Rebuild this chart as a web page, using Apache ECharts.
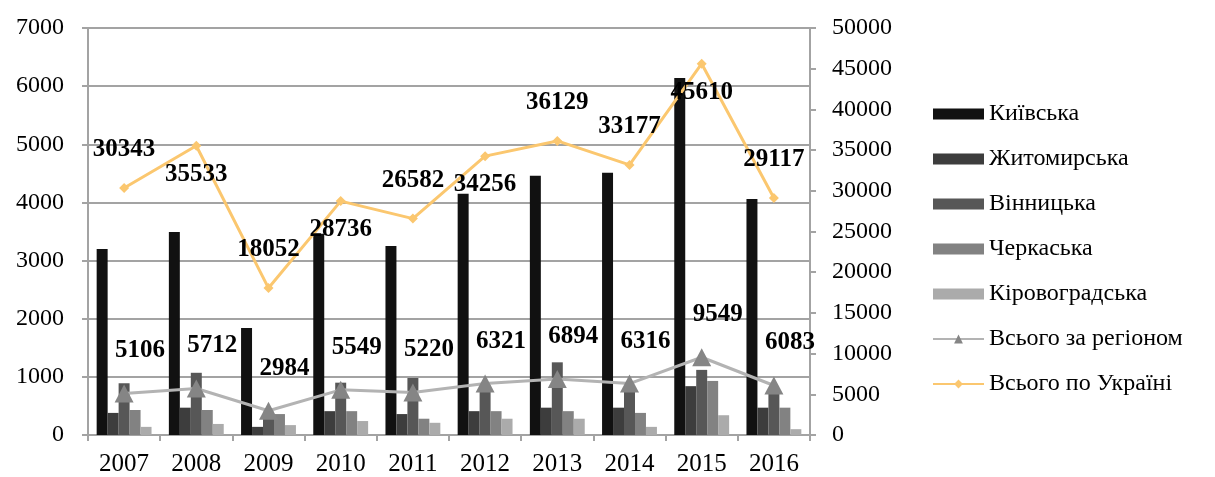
<!DOCTYPE html>
<html>
<head>
<meta charset="utf-8">
<script src="https://cdn.jsdelivr.net/npm/echarts@6/dist/echarts.min.js"></script>
<style>
  html, body { margin: 0; padding: 0; background: #fff; }
  #chart { width: 1215px; height: 477px; }
</style>
</head>
<body>
<div id="chart"></div>
<script>
// роки
var years = ['2007', '2008', '2009', '2010', '2011', '2012', '2013', '2014', '2015', '2016'];

// області (ліва вісь)
var kyivska = [3200, 3490, 1840, 3460, 3250, 4150, 4460, 4510, 6140, 4060];
var zhytomyrska = [380, 470, 140, 410, 360, 410, 470, 470, 840, 470];
var vinnytska = [890, 1070, 400, 900, 980, 850, 1250, 750, 1120, 750];
var cherkaska = [430, 430, 360, 410, 280, 410, 410, 380, 930, 470];
var kirovohradska = [140, 190, 170, 240, 210, 280, 280, 140, 340, 100];

// підсумки (права вісь)
var totalRegion = [5106, 5712, 2984, 5549, 5220, 6321, 6894, 6316, 9549, 6083];
var totalUkraine = [30343, 35533, 18052, 28736, 26582, 34256, 36129, 33177, 45610, 29117];

var serif = "'Liberation Serif', 'DejaVu Serif', serif";
var gridColor = '#a3a3a3';

// де стоїть підпис для лінії "по Україні"
var ukrLabelPos = ['top', 'bottom', 'top', 'bottom', 'top', 'bottom', 'top', 'top', 'bottom', 'top'];

var ukrData = [];
for (var i = 0; i < totalUkraine.length; i++) {
    ukrData.push({
        value: totalUkraine[i],
        label: {
            position: ukrLabelPos[i],
            distance: ukrLabelPos[i] == 'top' ? 21 : 11
        }
    });
}

var labelStyle = {
    show: true,
    fontFamily: serif,
    fontWeight: 'bold',
    fontSize: 25,
    color: '#000'
};

function plain(v) {
    return String(v);
}

function barSeries(name, data, color) {
    return {
        name: name,
        type: 'bar',
        data: data,
        yAxisIndex: 0,
        barGap: '0%',
        barCategoryGap: '24%',
        itemStyle: { color: color },
        animation: false
    };
}

var myChart = echarts.init(document.getElementById('chart'));

var option = {
    animation: false,
    grid: {
        left: 88,
        right: 405,
        top: 28,
        bottom: 42
    },
    legend: {
        orient: 'vertical',
        left: 927,
        top: 97,
        itemWidth: 51,
        itemHeight: 11,
        itemGap: 21,
        textStyle: {
            fontFamily: serif,
            fontSize: 24,
            color: '#000'
        },
        data: [
            { name: 'Київська', icon: 'rect' },
            { name: 'Житомирська', icon: 'rect' },
            { name: 'Вінницька', icon: 'rect' },
            { name: 'Черкаська', icon: 'rect' },
            { name: 'Кіровоградська', icon: 'rect' },
            { name: 'Всього за регіоном' },
            { name: 'Всього по Україні' }
        ]
    },
    xAxis: {
        type: 'category',
        data: years,
        boundaryGap: true,
        axisLine: { show: true, lineStyle: { color: gridColor, width: 2 } },
        axisTick: { show: true, length: 6, lineStyle: { color: gridColor, width: 2 } },
        axisLabel: {
            fontFamily: serif,
            fontSize: 25,
            color: '#000',
            margin: 17
        }
    },
    yAxis: [
        {
            type: 'value',
            min: 0,
            max: 7000,
            interval: 1000,
            position: 'left',
            axisLine: { show: true, lineStyle: { color: gridColor, width: 2 } },
            axisTick: { show: true, length: 6, lineStyle: { color: gridColor, width: 2 } },
            splitLine: { show: true, lineStyle: { color: gridColor, width: 2 } },
            axisLabel: {
                fontFamily: serif,
                fontSize: 24,
                color: '#000',
                margin: 24,
                formatter: plain
            }
        },
        {
            type: 'value',
            min: 0,
            max: 50000,
            interval: 5000,
            position: 'right',
            axisLine: { show: true, lineStyle: { color: gridColor, width: 2 } },
            axisTick: { show: true, length: 6, lineStyle: { color: gridColor, width: 2 } },
            splitLine: { show: false },
            axisLabel: {
                fontFamily: serif,
                fontSize: 24,
                color: '#000',
                margin: 22,
                formatter: plain
            }
        }
    ],
    series: [
        barSeries('Київська', kyivska, '#111111'),
        barSeries('Житомирська', zhytomyrska, '#3d3d3d'),
        barSeries('Вінницька', vinnytska, '#575757'),
        barSeries('Черкаська', cherkaska, '#828282'),
        barSeries('Кіровоградська', kirovohradska, '#ababab'),
        {
            name: 'Всього за регіоном',
            type: 'line',
            yAxisIndex: 1,
            data: totalRegion,
            symbol: 'triangle',
            symbolSize: [19, 18],
            lineStyle: { color: '#b3b3b3', width: 3 },
            itemStyle: { color: '#858585' },
            label: Object.assign({}, labelStyle, {
                position: 'top',
                distance: 21,
                offset: [16, 0]
            }),
            z: 3
        },
        {
            name: 'Всього по Україні',
            type: 'line',
            yAxisIndex: 1,
            data: ukrData,
            symbol: 'diamond',
            symbolSize: 10,
            lineStyle: { color: '#fbc76f', width: 3 },
            itemStyle: { color: '#fbc76f' },
            label: labelStyle,
            z: 4
        }
    ]
};

myChart.setOption(option);
</script>
</body>
</html>
